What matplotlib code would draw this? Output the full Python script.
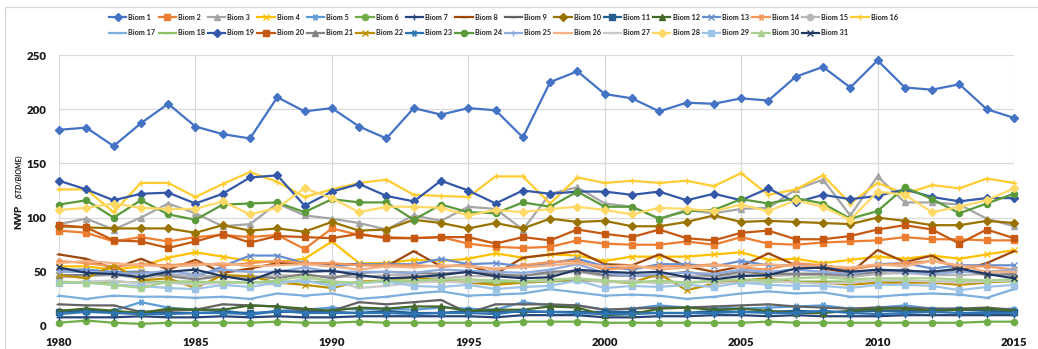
import matplotlib
matplotlib.use("Agg")
import matplotlib.pyplot as plt
from matplotlib.patches import Rectangle

# ---- data -------------------------------------------------------------
years = list(range(1980, 2016))

biom_01 = [181, 183, 166, 187, 205, 184, 177, 173, 211, 198, 201, 184, 173, 201, 195, 201, 199, 174,
           225, 235, 214, 210, 198, 206, 205, 210, 208, 230, 239, 220, 245, 220, 218, 223, 200, 192]
biom_02 = [88, 86, 78, 82, 78, 82, 84, 82, 84, 71, 90, 84, 82, 81, 82, 76, 73, 72,
           73, 79, 76, 75, 75, 78, 75, 82, 76, 75, 77, 78, 79, 82, 80, 80, 79, 79]
biom_03 = [94, 99, 89, 100, 113, 104, 92, 94, 113, 102, 99, 95, 89, 102, 97, 110, 108, 89,
           122, 128, 113, 110, 99, 107, 104, 108, 109, 126, 135, 102, 138, 114, 114, 112, 99, 92]
biom_04 = [55, 55, 52, 55, 63, 68, 64, 60, 59, 62, 78, 58, 58, 61, 60, 62, 67, 63,
           66, 65, 60, 64, 64, 64, 66, 68, 61, 62, 58, 61, 64, 62, 65, 62, 66, 70]
biom_05 = [14, 15, 14, 22, 17, 15, 15, 10, 14, 15, 17, 15, 16, 15, 17, 16, 15, 22,
           19, 19, 15, 16, 19, 17, 17, 16, 17, 18, 19, 16, 17, 19, 16, 16, 15, 16]
biom_06 = [3, 5, 3, 2, 3, 3, 3, 3, 4, 3, 3, 4, 3, 3, 3, 3, 3, 4,
           4, 4, 3, 3, 3, 3, 3, 3, 4, 3, 3, 3, 3, 3, 3, 3, 4, 4]
biom_07 = [8, 8, 8, 9, 8, 8, 9, 8, 9, 8, 8, 9, 9, 9, 9, 9, 8, 10,
           10, 10, 8, 8, 9, 9, 10, 10, 9, 10, 9, 9, 9, 10, 10, 10, 10, 10]
biom_08 = [66, 62, 53, 62, 52, 61, 49, 53, 58, 58, 57, 57, 55, 69, 55, 56, 48, 63,
           66, 69, 57, 56, 66, 55, 50, 55, 67, 56, 53, 49, 70, 59, 65, 51, 58, 69]
biom_09 = [20, 19, 19, 13, 14, 15, 20, 19, 18, 14, 14, 22, 20, 22, 24, 12, 20, 20,
           20, 19, 15, 16, 17, 17, 18, 19, 20, 18, 17, 16, 17, 17, 16, 16, 17, 15]
biom_10 = [92, 91, 90, 90, 90, 86, 93, 88, 90, 87, 96, 88, 89, 98, 95, 90, 95, 90,
           99, 96, 97, 92, 92, 96, 102, 96, 97, 96, 95, 94, 100, 97, 93, 93, 97, 95]
biom_11 = [13, 14, 13, 12, 12, 12, 13, 12, 13, 13, 13, 12, 14, 12, 12, 14, 13, 13,
           13, 13, 13, 13, 12, 12, 14, 13, 13, 14, 13, 13, 14, 14, 14, 15, 14, 13]
biom_12 = [14, 16, 14, 12, 16, 15, 15, 19, 18, 16, 14, 17, 16, 18, 18, 14, 15, 15,
           18, 17, 10, 11, 16, 17, 15, 16, 14, 12, 12, 14, 16, 16, 14, 15, 16, 14]
biom_13 = [52, 52, 50, 50, 48, 45, 55, 65, 65, 58, 55, 57, 57, 57, 62, 57, 58, 55,
           58, 62, 55, 52, 57, 57, 55, 60, 56, 56, 56, 52, 57, 58, 53, 56, 56, 56]
biom_14 = [60, 58, 55, 57, 56, 58, 56, 58, 60, 58, 58, 56, 56, 56, 55, 56, 52, 56,
           59, 60, 52, 54, 55, 55, 57, 54, 52, 58, 56, 52, 56, 58, 60, 55, 55, 52]
biom_15 = [45, 46, 47, 44, 47, 46, 46, 44, 47, 46, 46, 45, 47, 47, 44, 46, 46, 47,
           48, 50, 46, 48, 45, 46, 46, 47, 46, 47, 47, 45, 48, 49, 47, 47, 48, 46]
biom_16 = [126, 126, 105, 132, 132, 119, 131, 142, 133, 119, 126, 132, 135, 121, 120, 119, 138, 138,
           113, 137, 132, 134, 132, 134, 129, 141, 121, 126, 139, 113, 132, 122, 130, 127, 136, 132]
biom_17 = [28, 25, 28, 27, 27, 26, 27, 25, 30, 28, 30, 25, 27, 30, 32, 28, 29, 30,
           34, 31, 28, 29, 28, 25, 27, 30, 32, 30, 31, 27, 27, 29, 30, 29, 26, 34]
biom_18 = [40, 40, 41, 40, 41, 41, 40, 40, 41, 41, 40, 40, 41, 41, 41, 41, 40, 40,
           41, 42, 41, 40, 41, 40, 41, 41, 41, 41, 41, 41, 41, 42, 41, 41, 41, 41]
biom_19 = [134, 126, 116, 122, 123, 113, 122, 137, 139, 111, 124, 131, 120, 115, 134, 125, 113, 125,
           122, 124, 124, 121, 124, 116, 122, 116, 127, 114, 121, 117, 120, 126, 119, 115, 118, 118]
biom_20 = [93, 91, 79, 78, 72, 78, 85, 77, 83, 82, 81, 85, 81, 81, 82, 82, 76, 82,
           79, 89, 85, 82, 89, 81, 79, 86, 88, 80, 80, 83, 89, 93, 89, 76, 89, 81]
biom_21 = [47, 47, 48, 50, 46, 43, 46, 46, 44, 48, 44, 49, 50, 49, 48, 50, 48, 46,
           50, 51, 47, 46, 47, 50, 46, 50, 48, 48, 48, 47, 50, 52, 48, 52, 47, 48]
biom_22 = [47, 44, 56, 42, 44, 35, 47, 46, 40, 38, 35, 41, 42, 45, 42, 40, 38, 40,
           42, 43, 41, 40, 48, 33, 39, 42, 44, 40, 40, 38, 40, 40, 40, 38, 40, 42]
biom_23 = [11, 13, 12, 11, 11, 12, 12, 11, 14, 12, 12, 12, 12, 11, 12, 12, 11, 14,
           13, 12, 11, 11, 12, 12, 12, 13, 12, 12, 14, 12, 11, 12, 13, 12, 12, 12]
biom_24 = [112, 116, 100, 116, 103, 98, 112, 113, 114, 105, 117, 114, 114, 98, 112, 105, 104, 114,
           110, 124, 110, 110, 99, 106, 107, 117, 113, 118, 113, 99, 106, 128, 117, 104, 113, 122]
biom_25 = [50, 50, 49, 48, 51, 47, 52, 50, 50, 54, 50, 50, 50, 49, 52, 51, 50, 49,
           52, 57, 49, 46, 48, 49, 48, 52, 50, 52, 50, 48, 52, 50, 48, 50, 50, 52]
biom_26 = [58, 60, 58, 56, 55, 56, 58, 55, 56, 57, 55, 52, 55, 54, 56, 55, 53, 54,
           56, 58, 55, 56, 52, 54, 56, 55, 57, 55, 55, 54, 57, 55, 60, 56, 50, 50]
biom_27 = [40, 41, 42, 39, 40, 38, 40, 40, 38, 44, 42, 35, 37, 40, 41, 40, 43, 41,
           42, 44, 40, 42, 39, 41, 40, 40, 42, 40, 39, 40, 42, 42, 41, 40, 41, 42]
biom_28 = [107, 109, 113, 109, 108, 108, 115, 103, 109, 127, 118, 105, 110, 110, 109, 102, 107, 105,
           108, 110, 107, 103, 109, 108, 106, 112, 106, 116, 110, 98, 124, 121, 105, 110, 116, 127]
biom_29 = [40, 40, 38, 37, 35, 34, 38, 36, 40, 42, 37, 40, 41, 37, 36, 38, 34, 36,
           37, 42, 35, 37, 36, 38, 36, 40, 38, 37, 37, 35, 38, 38, 37, 33, 36, 38]
biom_30 = [41, 40, 38, 35, 41, 40, 41, 40, 42, 46, 41, 40, 42, 42, 43, 43, 42, 41,
           43, 44, 42, 40, 42, 40, 42, 43, 42, 44, 45, 43, 44, 44, 44, 43, 42, 43]
biom_31 = [54, 49, 48, 45, 50, 52, 46, 42, 51, 50, 51, 47, 44, 45, 47, 50, 46, 44,
           45, 52, 50, 49, 50, 45, 43, 46, 47, 53, 54, 50, 52, 51, 50, 53, 48, 44]

series = [biom_01, biom_02, biom_03, biom_04, biom_05, biom_06, biom_07, biom_08,
          biom_09, biom_10, biom_11, biom_12, biom_13, biom_14, biom_15, biom_16,
          biom_17, biom_18, biom_19, biom_20, biom_21, biom_22, biom_23, biom_24,
          biom_25, biom_26, biom_27, biom_28, biom_29, biom_30, biom_31]
labels = [f"Biom {i}" for i in range(1, 32)]

x_ticks = [1980, 1985, 1990, 1995, 2000, 2005, 2010, 2015]
y_ticks = [0, 50, 100, 150, 200, 250]

# ---- styling ----------------------------------------------------------
colors = ["#4472C4", "#ED7D31", "#A5A5A5", "#FFC000", "#5B9BD5", "#70AD47",
          "#264478", "#9E480E", "#636363", "#997300", "#255E91", "#43682B",
          "#698ED0", "#F1975A", "#B7B7B7", "#FFCD33", "#7CAFDD", "#8CC168",
          "#3358A8", "#C65911", "#848484", "#BF9000", "#2E75B6", "#5A9A3A",
          "#8FAADC", "#F4B183", "#C9C9C9", "#FFD966", "#9DC3E6", "#A9D18E",
          "#203864"]
asterisk = (6, 2, 90)
marker_cycle = ["D", "s", "^", "x", asterisk, "o", "+", "_", "_"]
marker_size = {"D": 3.6, "s": 4.2, "^": 4.4, "x": 4.2, "o": 4.4, "+": 4.6, "_": 4.0}

plt.rcParams["font.family"] = ["Lato", "DejaVu Sans"]

W, H = 1038, 349
fig = plt.figure(figsize=(W / 100, H / 100), dpi=100)
fig.patch.set_facecolor("white")

ax = fig.add_axes([59 / W, 1 - 326 / H, (1014 - 59) / W, (326 - 55) / H])

handles = []
for i, ys in enumerate(series):
    m = marker_cycle[i % len(marker_cycle)]
    ms = marker_size.get(m, 4.6) if isinstance(m, str) else 4.6
    (ln,) = ax.plot(years, ys, color=colors[i], lw=1.6, marker=m, ms=ms,
                    mew=1.0, mfc=colors[i], mec=colors[i], clip_on=False,
                    label=labels[i], zorder=3 + i * 0.01)
    handles.append(ln)

ax.set_xlim(1980, 2015)
ax.set_ylim(0, 250)
ax.set_xticks(x_ticks)
ax.set_yticks(y_ticks)
ax.grid(True, color="#D9D9D9", lw=0.9)
ax.set_axisbelow(True)
for s in ax.spines.values():
    s.set_visible(False)
ax.tick_params(length=0, labelsize=8.2, colors="#1a1a1a")
ax.tick_params(axis="x", pad=8)
ax.tick_params(axis="y", pad=9)
for t in ax.get_xticklabels() + ax.get_yticklabels():
    t.set_fontweight("heavy")

# y axis title: bold name with smaller italic unit
fig.text(19 / W, 1 - 229 / H, "NWP", rotation=90, rotation_mode="anchor",
         ha="left", va="center", fontsize=7, fontweight="heavy", color="#1a1a1a")
fig.text(19 / W, 1 - 198 / H, "(STD/BIOME)", rotation=90, rotation_mode="anchor",
         ha="left", va="center", fontsize=5.4, fontweight="bold", style="italic",
         color="#1a1a1a")

# legend in two rows, row-major order
order = []
for j in range(15):
    order += [j, j + 16]
order.append(15)
leg = fig.legend([handles[k] for k in order], [labels[k] for k in order],
                 ncol=16, loc="upper left", bbox_to_anchor=(109 / W, 1 - 14 / H),
                 frameon=False, prop={"weight": "bold", "size": 5.2},
                 handlelength=2.4, handletextpad=0.3, columnspacing=0.4,
                 labelspacing=1.15, borderpad=0, borderaxespad=0)
for t in leg.get_texts():
    t.set_color("#222222")

# chart area frame
fig.patches.append(Rectangle((5 / W, -0.1), 1.2, 1 - 7 / H + 0.1, transform=fig.transFigure,
                             fill=False, ec="#D9D9D9", lw=0.9, zorder=0))

fig.savefig("out.png", dpi=100, facecolor="white")
